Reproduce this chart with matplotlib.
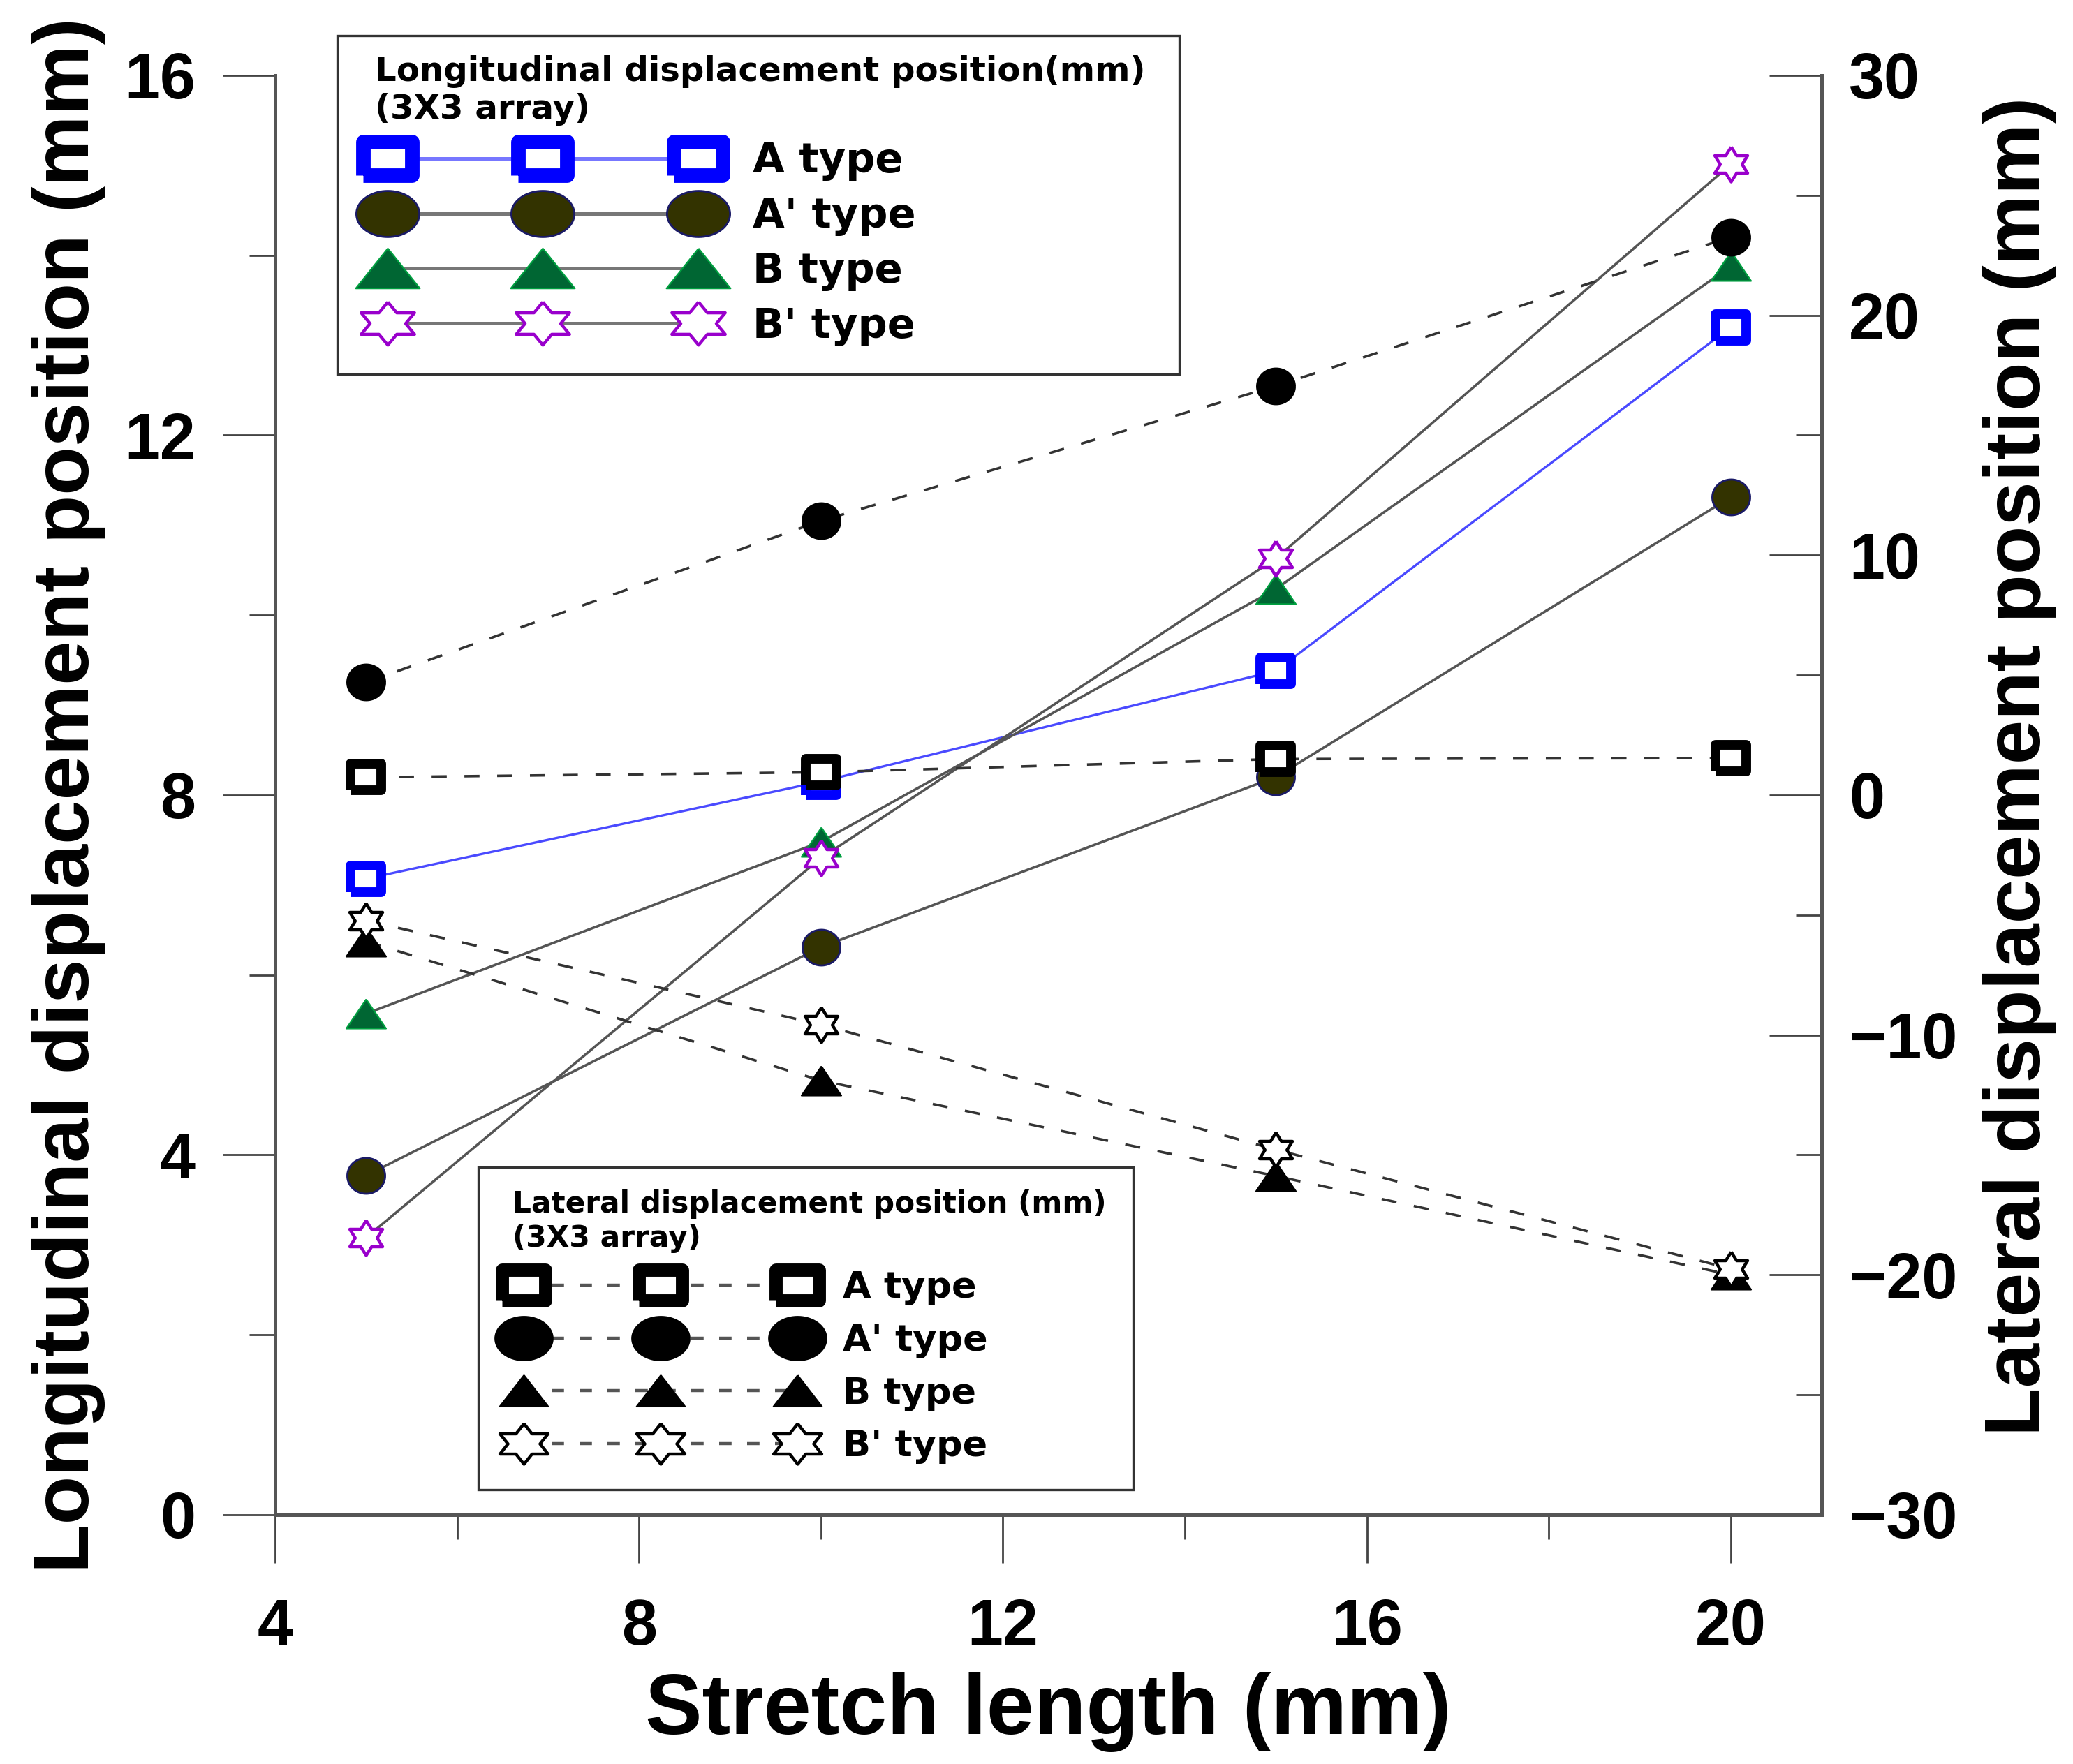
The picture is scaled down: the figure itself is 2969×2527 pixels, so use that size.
import numpy as np
import matplotlib
matplotlib.use("Agg")
import matplotlib.pyplot as plt
from matplotlib.lines import Line2D
from matplotlib.markers import MarkerStyle
from matplotlib.patches import Rectangle
from matplotlib.ticker import MultipleLocator

# Longueur d'étirement (mm)
stretch = [5, 10, 15, 20]

# Déplacement longitudinal (axe gauche, mm)
long_a = [7.07, 8.15, 9.38, 13.20]
long_a2 = [3.77, 6.31, 8.20, 11.31]
long_b = [5.57, 7.48, 10.29, 13.88]
long_b2 = [3.08, 7.30, 10.63, 15.01]

# Déplacement latéral (axe droit, mm)
lat_a = [0.74, 0.95, 1.50, 1.54]
lat_a2 = [4.70, 11.43, 17.05, 23.26]
lat_b = [-6.10, -11.90, -15.88, -20.00]
lat_b2 = [-5.23, -9.57, -14.78, -19.75]

type_labels = ["A type", "A' type", "B type", "B' type"]
long_title = "Longitudinal displacement position(mm)\n(3X3 array)"
lat_title = "Lateral displacement position (mm)\n(3X3 array)"

plt.rcParams["font.family"] = ["Liberation Sans", "DejaVu Sans"]
plt.rcParams["font.weight"] = "bold"


# Formes de marqueurs (un peu élargies comme dans la figure d'origine)
def square(aspect):
    v = [(-aspect, -1), (aspect, -1), (aspect, 1), (-aspect, 1), (-aspect, -1)]
    return MarkerStyle(v, joinstyle="miter")


def ellipse(aspect):
    t = np.linspace(0, 2 * np.pi, 73)
    return np.column_stack([aspect * np.cos(t), np.sin(t)])


def triangle(aspect):
    return MarkerStyle([(0, 1), (-aspect, -1), (aspect, -1), (0, 1)], joinstyle="miter")


def hexagram(stretch_x):
    a = np.pi / 2 + np.arange(13) * np.pi / 6
    r = np.where(np.arange(13) % 2 == 0, 1.0, 1 / np.sqrt(3))
    v = np.column_stack([stretch_x * r * np.cos(a), r * np.sin(a)])
    return MarkerStyle(v, joinstyle="miter")


fig = plt.figure(figsize=(14.845, 12.635), dpi=200)
ax1 = fig.add_axes([0.1327, 0.1413, 0.7461, 0.8160])
ax2 = ax1.twinx()

gray = "#555555"
blue = "#0000ff"
olive = "#333300"
green = "#006633"
purple = "#9900cc"

ax1.plot(stretch, long_a, color="#4a4aff", lw=1.2, marker=square(1.13), ms=15.5, mew=5,
         mec=blue, mfc="white")
ax1.plot(stretch, long_a2, color=gray, lw=1.3, marker=ellipse(1.06), ms=19.5, mew=1.0,
         mec="#1a1a66", mfc=olive)
ax1.plot(stretch, long_b, color=gray, lw=1.3, marker=triangle(1.36), ms=20.5, mew=0.8,
         mec="#00a040", mfc=green)
ax1.plot(stretch, long_b2, color=gray, lw=1.3, marker=hexagram(1.085), ms=18, mew=1.6,
         mec=purple, mfc="white")

dash = (0, (6, 7))
ax2.plot(stretch, lat_a, color="#333333", lw=1.3, ls=dash, marker=square(1.13), ms=15.5,
         mew=5, mec="black", mfc="white")
ax2.plot(stretch, lat_a2, color="#333333", lw=1.3, ls=dash, marker=ellipse(1.06), ms=19.5,
         mew=1.0, mec="black", mfc="black")
ax2.plot(stretch, lat_b, color="#333333", lw=1.3, ls=dash, marker=triangle(1.36), ms=20.5,
         mew=0.8, mec="black", mfc="black")
ax2.plot(stretch, lat_b2, color="#333333", lw=1.3, ls=dash, marker=hexagram(1.085), ms=18,
         mew=1.6, mec="black", mfc="white")

ax1.set_xlim(4, 21)
ax1.set_ylim(0, 16)
ax2.set_ylim(-30, 30)
ax1.xaxis.set_major_locator(MultipleLocator(4))
ax1.xaxis.set_minor_locator(MultipleLocator(2))
ax1.yaxis.set_major_locator(MultipleLocator(4))
ax1.yaxis.set_minor_locator(MultipleLocator(2))
ax2.yaxis.set_major_locator(MultipleLocator(10))
ax2.yaxis.set_minor_locator(MultipleLocator(5))

tc = "#444444"
ax1.tick_params(axis="x", which="major", direction="out", length=25, width=1, color=tc,
                pad=18, labelsize=33)
ax1.tick_params(axis="x", which="minor", direction="out", length=12.6, width=1, color=tc)
ax1.tick_params(axis="y", which="major", direction="out", length=27, width=1, color=tc,
                pad=14, labelsize=33)
ax1.tick_params(axis="y", which="minor", direction="out", length=13.5, width=1, color=tc)
ax2.tick_params(axis="y", which="major", direction="in", length=27, width=1, color=tc,
                pad=14, labelsize=33)
ax2.tick_params(axis="y", which="minor", direction="in", length=13.5, width=1, color=tc)

for ax in (ax1, ax2):
    ax.spines["top"].set_visible(False)
    for side in ("left", "right", "bottom"):
        ax.spines[side].set_color(gray)
        ax.spines[side].set_linewidth(1.8)

ax1.set_xlabel("Stretch length (mm)", fontsize=44, fontweight="bold", labelpad=7)
ax1.set_ylabel("Longitudinal displacement position (mm)", fontsize=41, fontweight="bold",
               labelpad=10)
ax2.set_ylabel("Lateral displacement position (mm)", fontsize=41, fontweight="bold",
               labelpad=13)
ax2.yaxis.label.set_y(0.52)

# Légendes : poignées avec des marqueurs plus grands et plus larges
top_handles = [
    Line2D([], [], color="#7777ff", lw=1.8, marker=square(1.45), ms=25, mew=7.5,
           mec=blue, mfc="white"),
    Line2D([], [], color="#777777", lw=1.8, marker=ellipse(1.37), ms=32.5, mew=1.0,
           mec="#1a1a66", mfc=olive),
    Line2D([], [], color="#777777", lw=1.8, marker=triangle(1.6), ms=33, mew=0.8,
           mec="#00a040", mfc=green),
    Line2D([], [], color="#777777", lw=1.8, marker=hexagram(1.43), ms=27.5, mew=1.6,
           mec=purple, mfc="white"),
]
bot_handles = [
    Line2D([], [], color="#555555", lw=1.6, ls=(0, (4, 5)), marker=square(1.45), ms=22.5,
           mew=6.8, mec="black", mfc="white"),
    Line2D([], [], color="#555555", lw=1.6, ls=(0, (4, 5)), marker=ellipse(1.32), ms=29.5,
           mew=1.0, mec="black", mfc="black"),
    Line2D([], [], color="#555555", lw=1.6, ls=(0, (4, 5)), marker=triangle(1.55), ms=25,
           mew=0.8, mec="black", mfc="black"),
    Line2D([], [], color="#555555", lw=1.6, ls=(0, (4, 5)), marker=hexagram(1.37), ms=24.8,
           mew=1.6, mec="black", mfc="white"),
]

# cadres des légendes (coordonnées figure)
for x0, y0, w, h in [(0.1627, 0.7879, 0.4062, 0.1919), (0.2307, 0.1555, 0.3159, 0.1828)]:
    ax2.add_patch(Rectangle((x0, y0), w, h, transform=fig.transFigure, clip_on=False,
                            facecolor="white", edgecolor="#333333", lw=1.2, zorder=4.5))

leg1 = ax2.legend(top_handles, type_labels, loc="upper left",
                  bbox_to_anchor=(0.1809, 0.9687), bbox_transform=fig.transFigure,
                  borderaxespad=0, borderpad=0, frameon=False,
                  numpoints=3, handlelength=8.12, handletextpad=1.03,
                  handleheight=0.7, labelspacing=0.37,
                  title=long_title, alignment="left",
                  title_fontproperties={"family": "DejaVu Sans", "weight": "bold", "size": 17.4},
                  prop={"family": "DejaVu Sans", "weight": "bold", "size": 21.3})
ax2.add_artist(leg1)

leg2 = ax2.legend(bot_handles, type_labels, loc="upper left",
                  bbox_to_anchor=(0.2472, 0.3257), bbox_transform=fig.transFigure,
                  borderaxespad=0, borderpad=0, frameon=False,
                  numpoints=3, handlelength=8.07, handletextpad=0.95,
                  handleheight=0.7, labelspacing=0.49,
                  title=lat_title, alignment="left",
                  title_fontproperties={"family": "DejaVu Sans", "weight": "bold", "size": 15.2},
                  prop={"family": "DejaVu Sans", "weight": "bold", "size": 18.9})

fig.savefig("out.png", dpi=200)
